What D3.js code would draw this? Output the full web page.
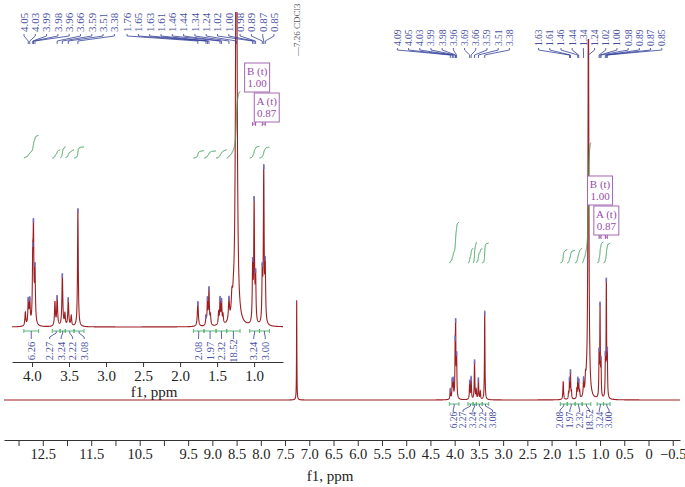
<!DOCTYPE html>
<html>
<head>
<meta charset="utf-8">
<script src="https://cdn.jsdelivr.net/npm/d3@7"></script>
<style>
  body { margin: 0; background: #fff; }
  svg { display: block; font-family: "Liberation Serif", "DejaVu Serif", serif; }
</style>
</head>
<body>
<div id="container"></div>
<script>
const width = 685;
const height = 487;

// ---------------------------- DATA ----------------------------//
// peak list: shift (ppm), apparent height (inset px units), half width (ppm)
const peakPpm    = [7.26, 4.09, 4.05, 4.03, 3.99, 3.98, 3.96, 3.69, 3.66, 3.59, 3.555, 3.51, 3.47, 3.38,
                    1.76, 1.65, 1.63, 1.61, 1.59, 1.48, 1.46, 1.44, 1.42, 1.34, 1.30, 1.28, 1.24,
                    1.02, 1.00, 0.98, 0.89, 0.87, 0.85];
const peakHeight = [133, 15, 29, 30, 84, 108, 64, 26, 31, 53, 15, 29, 12, 118,
                    25, 12, 30, 40, 14, 16, 30, 28, 14, 30, 40, 52, 540,
                    69, 130, 58, 64, 162, 70];
const peakHwhm   = [0.004, 0.007, 0.007, 0.007, 0.006, 0.006, 0.007, 0.007, 0.007, 0.007, 0.007, 0.007, 0.007, 0.006,
                    0.008, 0.006, 0.006, 0.006, 0.006, 0.006, 0.006, 0.006, 0.006, 0.008, 0.01, 0.01, 0.011,
                    0.006, 0.006, 0.006, 0.006, 0.006, 0.006];

// picked peaks shown above each panel
const mainPeakLabels  = [4.09, 4.05, 4.03, 3.99, 3.98, 3.96, 3.69, 3.66, 3.59, 3.51, 3.38,
                         1.63, 1.61, 1.46, 1.44, 1.34, 1.24, 1.02, 1.00, 0.98, 0.89, 0.87, 0.85];
const insetPeakLabels = [4.05, 4.03, 3.99, 3.98, 3.96, 3.66, 3.59, 3.51, 3.38,
                         1.76, 1.65, 1.63, 1.61, 1.46, 1.44, 1.34, 1.24, 1.02, 1.00, 0.98, 0.89, 0.87, 0.85];

// integral regions (ppm from, ppm to) and their values
const integralFrom   = [4.11, 3.726, 3.62, 3.55, 3.432, 1.82, 1.676, 1.514, 1.37, 1.06, 0.928];
const integralTo     = [3.91, 3.62, 3.55, 3.432, 3.297, 1.676, 1.514, 1.37, 1.19, 0.928, 0.793];
const integralValues = ["6.26", "2.27", "3.24", "2.22", "3.08", "2.08", "1.97", "2.32", "18.52", "3.24", "3.00"];

// multiplet annotations
const multipletNames  = ["A (t)", "B (t)"];
const multipletShifts = ["0.87", "1.00"];
const multipletHi     = [0.89, 1.02];
const multipletLo     = [0.85, 0.98];

// axis ticks
const mainTicks = d3.range(26, -2, -1).map(d => d / 2);
const mainTickLabels = ["12.5", "11.5", "10.5", "9.5", "9.0", "8.5", "8.0", "7.5", "7.0", "6.5", "6.0",
                        "5.5", "5.0", "4.5", "4.0", "3.5", "3.0", "2.5", "2.0", "1.5", "1.0", "0.5", "0", "\u22120.5"];
const insetTicks = [4.0, 3.5, 3.0, 2.5, 2.0, 1.5, 1.0];
const solventLabel = "\u20147.26 CDCl3";

// ---------------------------- COLOURS ----------------------------//
const red = "#9e1f22";
const green = "#35a052";
const navy = "#34409a";
const blueText = "#4a52a2";
const purple = "#9a4aa8";

// ------------------------- SPECTRUM MODEL -------------------------//
// turn apparent heights into line amplitudes so overlapping lines add up to the read height
const amp = peakHeight.slice();
for (let it = 0; it < 400; it++) {
  for (let i = 0; i < peakPpm.length; i++) {
    let s = 0;
    for (let j = 0; j < peakPpm.length; j++) {
      const d = (peakPpm[i] - peakPpm[j]) / peakHwhm[j];
      s += amp[j] / (1 + d * d);
    }
    amp[i] = Math.max(0, amp[i] + 0.5 * (peakHeight[i] - s));
  }
}
function intensity(ppm) {
  let s = 0;
  for (let j = 0; j < peakPpm.length; j++) {
    const d = (ppm - peakPpm[j]) / peakHwhm[j];
    s += amp[j] / (1 + d * d);
  }
  return s;
}

// spread labels so they don't overlap, keeping each group centred on its anchors;
// an extra gap is left where two far-apart groups of anchors get merged
function spread(xs, gap, lo, hi, breakGap = 0, breakDist = 40) {
  let cl = xs.map(x => ({ xs: [x], offs: [0] }));
  const widthOf = c => c.offs[c.offs.length - 1];
  const fix = c => {
    c.start = d3.mean(c.xs) - d3.mean(c.offs);
    if (lo !== undefined) c.start = Math.max(lo, c.start);
    if (hi !== undefined) c.start = Math.min(hi - widthOf(c), c.start);
  };
  cl.forEach(fix);
  let merged = true;
  while (merged) {
    merged = false;
    for (let i = 0; i < cl.length - 1; i++) {
      const a = cl[i], b = cl[i + 1];
      if (a.start + widthOf(a) + gap > b.start) {
        const extra = b.xs[0] - a.xs[a.xs.length - 1] > breakDist ? breakGap : 0;
        const shift = widthOf(a) + gap + extra;
        const c = { xs: a.xs.concat(b.xs), offs: a.offs.concat(b.offs.map(o => o + shift)) };
        fix(c);
        cl.splice(i, 2, c);
        merged = true;
        break;
      }
    }
  }
  const out = [];
  cl.forEach(c => c.offs.forEach(o => out.push(c.start + o)));
  return out;
}

const svg = d3.select("#container").append("svg")
  .attr("width", width)
  .attr("height", height);
svg.append("rect").attr("width", width).attr("height", height).attr("fill", "#fff");

const defs = svg.append("defs");
defs.append("clipPath").attr("id", "clipMain")
  .append("rect").attr("x", 0).attr("y", 39).attr("width", width).attr("height", height);
defs.append("clipPath").attr("id", "clipInset")
  .append("rect").attr("x", 0).attr("y", 12).attr("width", 300).attr("height", 400);

// ---------------------------- PANELS ----------------------------//
const panels = [
  {
    name: "main",
    x: d3.scaleLinear().domain([13.3, -0.65]).range([4, 680]),
    y: d3.scaleLinear().domain([0, 100]).range([400, 325]),
    clip: "url(#clipMain)",
    step: 0.001,
    axisY: 440, tickSize: 6, tickFont: 14.5,
    ticks: mainTicks,
    tickFormat: d => {
      const i = mainTickLabels.indexOf(d === 0 ? "0" : (d < 0 ? "\u2212" + (-d).toFixed(1) : d.toFixed(1)));
      return i >= 0 ? mainTickLabels[i] : "";
    },
    titleX: 330, titleY: 481,
    labels: mainPeakLabels, labelFont: 9.5, labelGap: 11.2, labelBase: 46,
    labelLo: undefined, labelHi: undefined, labelBreak: 18,
    intBase: 263, intScale: 6.5,
    bracketY: 404, intLabelY: 420, intFont: 9.5, intGap: 9.8,
    markY: 237, boxShift: 0,
    integrals: d3.range(integralValues.length)
  },
  {
    name: "inset",
    x: d3.scaleLinear().domain([4.27, 0.61]).range([12, 283]),
    y: d3.scaleLinear().domain([0, 100]).range([327, 227]),
    clip: "url(#clipInset)",
    step: 0.0008,
    axisY: 362, tickSize: 5, tickFont: 15,
    ticks: insetTicks,
    tickFormat: d => d.toFixed(1),
    titleX: 154, titleY: 397,
    labels: insetPeakLabels, labelFont: 11, labelGap: 11.3, labelBase: 32,
    labelLo: 24, labelHi: 274, labelBreak: 2,
    intBase: 158, intScale: 3.6,
    bracketY: 331, intLabelY: 351, intFont: 10.5, intGap: 11.5,
    markY: 124, boxShift: 3,
    integrals: d3.range(integralValues.length)
  }
];

panels.forEach(p => {
  const g = svg.append("g").attr("class", p.name);
  const [d0, d1] = p.x.domain();
  const samples = d3.range(d0, d1, -p.step).map(ppm => ({ ppm, v: intensity(ppm) }));

  //----------------------------AXIS-----------------------------//
  const axis = d3.axisBottom(p.x)
    .tickValues(p.ticks)
    .tickFormat(p.tickFormat)
    .tickSize(p.tickSize)
    .tickSizeOuter(0)
    .tickPadding(3);
  const ax = g.append("g")
    .attr("transform", "translate(0," + p.axisY + ")")
    .call(axis);
  ax.select(".domain").attr("stroke", "#333");
  ax.selectAll(".tick line").attr("stroke", "#333");
  ax.selectAll(".tick text")
    .attr("font-family", "Liberation Serif")
    .attr("font-size", p.tickFont)
    .attr("fill", "#222");
  g.append("text")
    .attr("x", p.titleX).attr("y", p.titleY)
    .attr("text-anchor", "middle")
    .attr("font-size", 15)
    .attr("fill", "#222")
    .text("f1, ppm");

  //---------------------------SPECTRUM---------------------------//
  const line = d3.line().x(d => p.x(d.ppm)).y(d => p.y(d.v));
  const sg = g.append("g").attr("clip-path", p.clip);
  sg.append("path")
    .attr("d", line(samples))
    .attr("fill", "none")
    .attr("stroke", red)
    .attr("stroke-width", 1.1);

  // peak-pick markers
  sg.selectAll("line.mark")
    .data(p.labels)
    .join("line")
    .attr("class", "mark")
    .attr("x1", d => p.x(d)).attr("x2", d => p.x(d))
    .attr("y1", d => p.y(intensity(d)) - 1)
    .attr("y2", d => p.y(intensity(d)) + 4)
    .attr("stroke", "#7074c8")
    .attr("stroke-width", 1.6)
    .attr("opacity", 0.85);

  //-------------------------PEAK LABELS--------------------------//
  const peakXs = p.labels.map(d => p.x(d)).sort((a, b) => a - b);
  const labXs = spread(peakXs, p.labelGap, p.labelLo, p.labelHi, p.labelBreak);
  const lb = p.labelBase;
  const lg = g.append("g");
  peakXs.forEach((px, i) => {
    const lx = labXs[i];
    lg.append("path")
      .attr("d", `M${lx},${lb + 2}V${lb + 4}L${px},${lb + 9}V${lb + 12}`)
      .attr("fill", "none")
      .attr("stroke", navy)
      .attr("stroke-width", 0.8);
  });
  const sortedLabels = p.labels.slice().sort((a, b) => b - a);
  lg.selectAll("text")
    .data(sortedLabels)
    .join("text")
    .attr("transform", (d, i) => `translate(${labXs[i]},${lb}) rotate(-90)`)
    .attr("dy", "0.35em")
    .attr("font-size", p.labelFont)
    .attr("fill", blueText)
    .text(d => d.toFixed(2));

  //--------------------------INTEGRALS---------------------------//
  const ig = g.append("g");
  const centers = p.integrals.map(i => (p.x(integralFrom[i]) + p.x(integralTo[i])) / 2);
  const intLabXs = spread(centers, p.intGap);
  p.integrals.forEach((i, k) => {
    const pts = d3.range(integralFrom[i], integralTo[i], -0.0005);
    let cum = 0;
    const cumPts = pts.map(ppm => { cum += intensity(ppm); return { ppm, c: cum }; });
    const total = cum;
    const rise = +integralValues[i] * p.intScale;
    ig.append("path")
      .attr("d", d3.line().x(d => p.x(d.ppm)).y(d => p.intBase - rise * d.c / total)(cumPts))
      .attr("fill", "none")
      .attr("stroke", green)
      .attr("stroke-width", 1);

    const xa = p.x(integralFrom[i]), xb = p.x(integralTo[i]);
    const by = p.bracketY;
    ig.append("path")
      .attr("d", `M${xa},${by - 2}V${by + 2}M${xa},${by}H${xb}M${xb},${by - 2}V${by + 2}`)
      .attr("fill", "none")
      .attr("stroke", "#4cb066")
      .attr("stroke-width", 0.9);
    const cx = centers[k], lx = intLabXs[k];
    ig.append("path")
      .attr("d", `M${cx},${by}V${by + 2}L${lx},${by + 6}V${by + 8}`)
      .attr("fill", "none")
      .attr("stroke", navy)
      .attr("stroke-width", 0.8);
    ig.append("text")
      .attr("transform", `translate(${lx},${p.intLabelY}) rotate(-90)`)
      .attr("text-anchor", "middle")
      .attr("dy", "0.35em")
      .attr("font-size", p.intFont)
      .attr("fill", blueText)
      .text(integralValues[i]);
  });

  //--------------------------MULTIPLETS--------------------------//
  const mg = g.append("g");
  const boxW = 25, boxH = 29;
  multipletNames.forEach((name, i) => {
    const xa = p.x(multipletHi[i]), xb = p.x(multipletLo[i]);
    const my = p.markY;
    mg.append("path")
      .attr("d", `M${xa},${my - 2}V${my + 2}M${xa},${my}H${xb}M${xb},${my - 2}V${my + 2}`)
      .attr("fill", "none")
      .attr("stroke", purple)
      .attr("stroke-width", 0.9);
    const cx = p.x(+multipletShifts[i]) + p.boxShift;
    const top = my - 2 - boxH - i * (boxH + 1);
    mg.append("rect")
      .attr("x", cx - boxW / 2).attr("y", top)
      .attr("width", boxW).attr("height", boxH)
      .attr("fill", "#fff")
      .attr("stroke", "#a566b4")
      .attr("stroke-width", 1);
    mg.append("text")
      .attr("x", cx).attr("y", top + 12)
      .attr("text-anchor", "middle")
      .attr("font-size", 11)
      .attr("fill", purple)
      .text(name);
    mg.append("text")
      .attr("x", cx).attr("y", top + 24)
      .attr("text-anchor", "middle")
      .attr("font-size", 11)
      .attr("fill", purple)
      .text(multipletShifts[i]);
  });
});

// solvent label
const mainX = panels[0].x;
svg.append("text")
  .attr("transform", `translate(${mainX(7.26)},56) rotate(-90)`)
  .attr("dy", "0.35em")
  .attr("font-size", 9)
  .attr("fill", "#555")
  .text(solventLabel);
</script>
</body>
</html>
